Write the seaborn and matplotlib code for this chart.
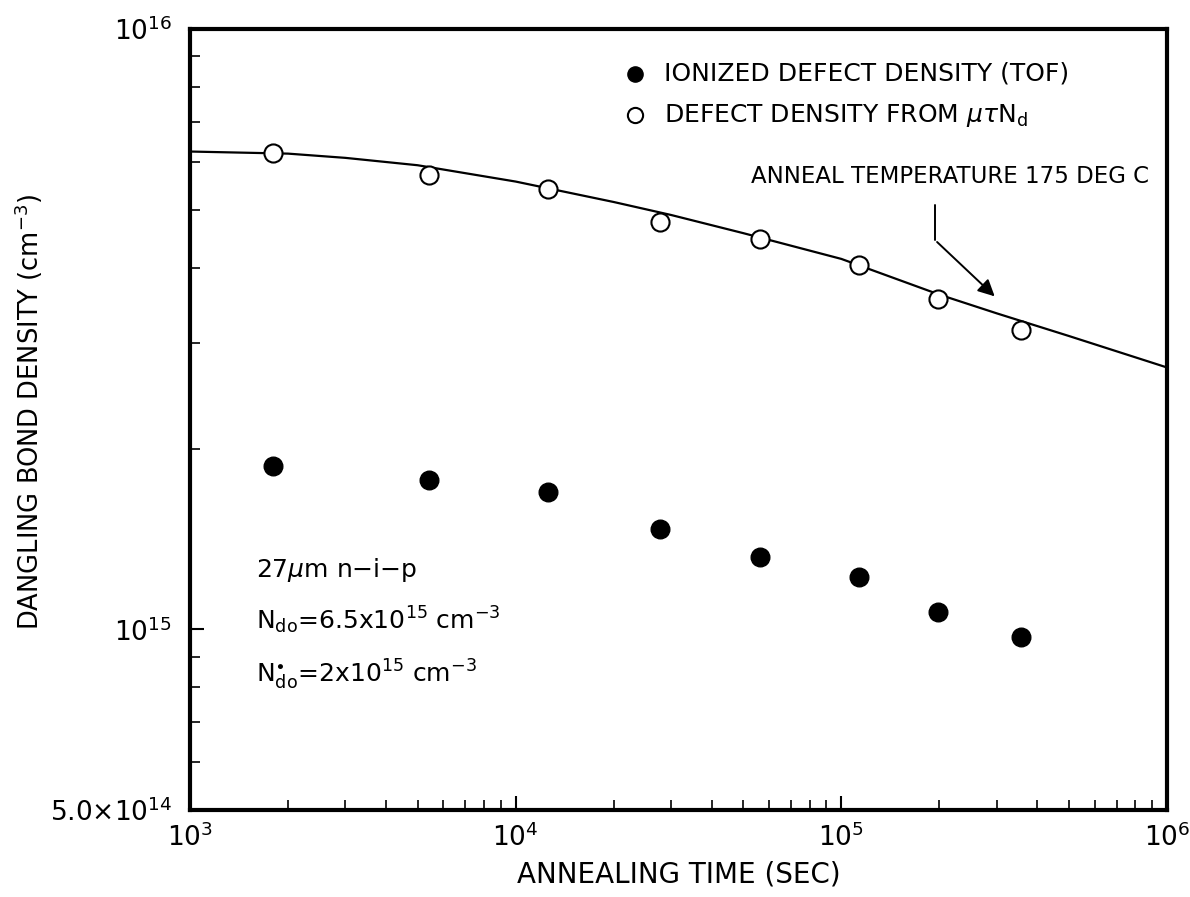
import numpy as np
import pandas as pd
import seaborn as sns
import matplotlib.pyplot as plt
from matplotlib.ticker import FixedLocator, FixedFormatter, LogLocator, NullFormatter

# annealing times (sec)
anneal_time = [1800, 5400, 12600, 27700, 56200, 113000, 198000, 356000]
# ionized defect density from TOF (filled circles)
ionized_density = [1.87e15, 1.77e15, 1.69e15, 1.47e15, 1.32e15, 1.22e15, 1.07e15, 0.97e15]
# defect density from mu-tau N_d (open circles)
mutau_density = [6.21e15, 5.71e15, 5.41e15, 4.77e15, 4.47e15, 4.04e15, 3.55e15, 3.15e15]

# fitted curve
curve_time = [1e3, 2e3, 3e3, 5e3, 1e4, 2e4, 3e4, 5e4, 1e5, 2e5, 3e5, 5e5, 1e6]
curve_density = [6.25e15, 6.2e15, 6.1e15, 5.93e15, 5.57e15, 5.15e15, 4.9e15, 4.57e15,
                 4.14e15, 3.61e15, 3.36e15, 3.08e15, 2.73e15]

y_ticks = [5e14, 1e15, 1e16]
y_tick_labels = [r'5.0$\times$10$^{14}$', r'10$^{15}$', r'10$^{16}$']
x_ticks = [1e3, 1e4, 1e5, 1e6]
x_tick_labels = [r'10$^{3}$', r'10$^{4}$', r'10$^{5}$', r'10$^{6}$']

sns.set_style("ticks")
plt.rcParams['font.family'] = ['DejaVu Sans']
plt.rcParams['mathtext.fontset'] = 'dejavusans'
for key in ['text.color', 'axes.edgecolor', 'axes.labelcolor', 'xtick.color', 'ytick.color']:
    plt.rcParams[key] = 'black'

fig = plt.figure(figsize=(11.9, 8.97), dpi=100)
ax = fig.add_axes([190 / 1190, 87 / 897, 977 / 1190, 781 / 897])

df_pts = pd.DataFrame({'time': anneal_time, 'ion': ionized_density, 'mutau': mutau_density})
df_curve = pd.DataFrame({'time': curve_time, 'dens': curve_density})

sns.lineplot(data=df_curve, x='time', y='dens', ax=ax, color='black', linewidth=1.6,
             sort=False, estimator=None)
sns.scatterplot(data=df_pts, x='time', y='ion', ax=ax, color='black', s=180,
                edgecolor='black', linewidth=1, zorder=3, label='IONIZED DEFECT DENSITY (TOF)')
sns.scatterplot(data=df_pts, x='time', y='mutau', ax=ax, facecolor='white', s=170,
                edgecolor='black', linewidth=1.5, zorder=3,
                label=r'DEFECT DENSITY FROM $\mu\tau$N$_{\mathrm{d}}$')

ax.set_xscale('log')
ax.set_yscale('log')
ax.set_xlim(1e3, 1e6)
ax.set_ylim(5e14, 1e16)

ax.xaxis.set_major_locator(FixedLocator(x_ticks))
ax.xaxis.set_major_formatter(FixedFormatter(x_tick_labels))
ax.xaxis.set_minor_locator(LogLocator(base=10, subs=np.arange(2, 10)))
ax.xaxis.set_minor_formatter(NullFormatter())
ax.yaxis.set_major_locator(FixedLocator(y_ticks))
ax.yaxis.set_major_formatter(FixedFormatter(y_tick_labels))
ax.yaxis.set_minor_locator(LogLocator(base=10, subs=np.arange(2, 10)))
ax.yaxis.set_minor_formatter(NullFormatter())

ax.tick_params(which='both', direction='in', top=False, right=False, labelsize=19)
ax.tick_params(axis='x', pad=10)
ax.tick_params(axis='y', pad=13)
ax.tick_params(which='major', length=10, width=1.5)
ax.tick_params(which='minor', length=7, width=1.2)
for sp in ax.spines.values():
    sp.set_linewidth(3)
    sp.set_visible(True)

ax.set_xlabel('ANNEALING TIME (SEC)', fontsize=20, labelpad=6)
ax.set_ylabel(r'DANGLING BOND DENSITY (cm$^{-3}$)', fontsize=18.5)
ax.yaxis.set_label_coords(-0.148, 0.51)

leg = ax.legend(loc='upper left', bbox_to_anchor=(0.42, 0.971), frameon=False, fontsize=18,
                handletextpad=0.15, labelspacing=0.65, borderaxespad=0)
for h in leg.legend_handles:
    h.set_sizes([120])

# anneal temperature annotation
ax.text(2.15e5, 5.67e15, 'ANNEAL TEMPERATURE 175 DEG C', fontsize=16.5, ha='center', va='center')
ax.plot([1.94e5, 1.94e5], [5.1e15, 4.45e15], color='black', linewidth=1.4)
ax.annotate('', xy=(3.0e5, 3.56e15), xytext=(1.94e5, 4.45e15),
            arrowprops=dict(arrowstyle='-|>', color='black', lw=1.4, mutation_scale=25))

# sample info
ax.text(1.6e3, 1.254e15, r'27$\mu$m n$-$i$-$p', fontsize=18, va='center')
ax.text(1.6e3, 1.035e15, r'N$_{\mathrm{do}}$=6.5x10$^{15}$ cm$^{-3}$', fontsize=18, va='center')
ax.text(1.6e3, 0.84e15, r'N$^{\bullet}_{\mathrm{do}}$=2x10$^{15}$ cm$^{-3}$', fontsize=18, va='center')

plt.savefig('out.png', dpi=100)
plt.close()
